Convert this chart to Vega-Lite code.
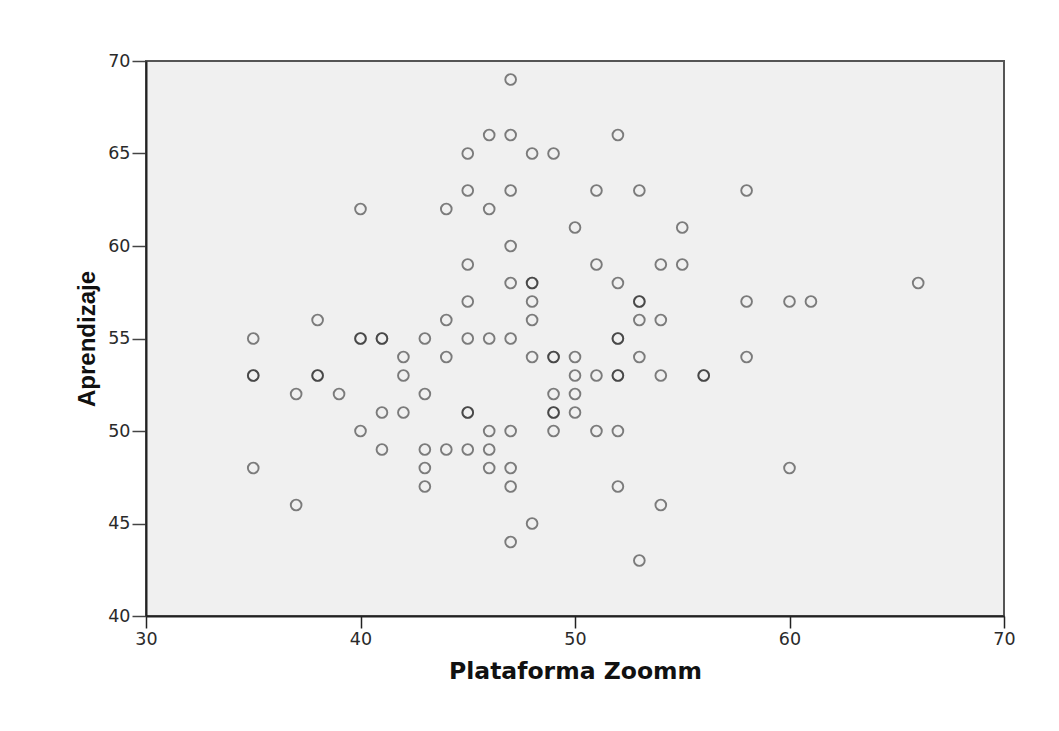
{
  "$schema": "https://vega.github.io/schema/vega-lite/v6.json",
  "autosize": "none",
  "width": 858,
  "height": 555,
  "padding": {"left": 146, "top": 61, "right": 55, "bottom": 115},
  "background": "white",
  "config": {
    "view": {"fill": "#f0f0f0", "stroke": "#555555", "strokeWidth": 2}
  },
  "data": {
    "values": [
      {"zoom": 47, "aprendizaje": 69},
      {"zoom": 46, "aprendizaje": 66}, {"zoom": 47, "aprendizaje": 66}, {"zoom": 52, "aprendizaje": 66},
      {"zoom": 45, "aprendizaje": 65}, {"zoom": 48, "aprendizaje": 65}, {"zoom": 49, "aprendizaje": 65},
      {"zoom": 45, "aprendizaje": 63}, {"zoom": 47, "aprendizaje": 63}, {"zoom": 51, "aprendizaje": 63}, {"zoom": 53, "aprendizaje": 63}, {"zoom": 58, "aprendizaje": 63},
      {"zoom": 40, "aprendizaje": 62}, {"zoom": 44, "aprendizaje": 62}, {"zoom": 46, "aprendizaje": 62},
      {"zoom": 50, "aprendizaje": 61}, {"zoom": 55, "aprendizaje": 61},
      {"zoom": 47, "aprendizaje": 60},
      {"zoom": 45, "aprendizaje": 59}, {"zoom": 51, "aprendizaje": 59}, {"zoom": 54, "aprendizaje": 59}, {"zoom": 55, "aprendizaje": 59},
      {"zoom": 47, "aprendizaje": 58}, {"zoom": 48, "aprendizaje": 58}, {"zoom": 48, "aprendizaje": 58}, {"zoom": 52, "aprendizaje": 58}, {"zoom": 66, "aprendizaje": 58},
      {"zoom": 45, "aprendizaje": 57}, {"zoom": 48, "aprendizaje": 57}, {"zoom": 53, "aprendizaje": 57}, {"zoom": 53, "aprendizaje": 57}, {"zoom": 58, "aprendizaje": 57}, {"zoom": 60, "aprendizaje": 57}, {"zoom": 61, "aprendizaje": 57},
      {"zoom": 38, "aprendizaje": 56}, {"zoom": 44, "aprendizaje": 56}, {"zoom": 48, "aprendizaje": 56}, {"zoom": 53, "aprendizaje": 56}, {"zoom": 54, "aprendizaje": 56},
      {"zoom": 35, "aprendizaje": 55}, {"zoom": 40, "aprendizaje": 55}, {"zoom": 40, "aprendizaje": 55}, {"zoom": 41, "aprendizaje": 55}, {"zoom": 41, "aprendizaje": 55}, {"zoom": 43, "aprendizaje": 55}, {"zoom": 45, "aprendizaje": 55}, {"zoom": 46, "aprendizaje": 55}, {"zoom": 47, "aprendizaje": 55}, {"zoom": 52, "aprendizaje": 55}, {"zoom": 52, "aprendizaje": 55},
      {"zoom": 42, "aprendizaje": 54}, {"zoom": 44, "aprendizaje": 54}, {"zoom": 48, "aprendizaje": 54}, {"zoom": 49, "aprendizaje": 54}, {"zoom": 49, "aprendizaje": 54}, {"zoom": 50, "aprendizaje": 54}, {"zoom": 53, "aprendizaje": 54}, {"zoom": 58, "aprendizaje": 54},
      {"zoom": 35, "aprendizaje": 53}, {"zoom": 35, "aprendizaje": 53}, {"zoom": 38, "aprendizaje": 53}, {"zoom": 38, "aprendizaje": 53}, {"zoom": 42, "aprendizaje": 53}, {"zoom": 50, "aprendizaje": 53}, {"zoom": 51, "aprendizaje": 53}, {"zoom": 52, "aprendizaje": 53}, {"zoom": 52, "aprendizaje": 53}, {"zoom": 54, "aprendizaje": 53}, {"zoom": 56, "aprendizaje": 53}, {"zoom": 56, "aprendizaje": 53},
      {"zoom": 37, "aprendizaje": 52}, {"zoom": 39, "aprendizaje": 52}, {"zoom": 43, "aprendizaje": 52}, {"zoom": 49, "aprendizaje": 52}, {"zoom": 50, "aprendizaje": 52},
      {"zoom": 41, "aprendizaje": 51}, {"zoom": 42, "aprendizaje": 51}, {"zoom": 45, "aprendizaje": 51}, {"zoom": 45, "aprendizaje": 51}, {"zoom": 49, "aprendizaje": 51}, {"zoom": 49, "aprendizaje": 51}, {"zoom": 50, "aprendizaje": 51},
      {"zoom": 40, "aprendizaje": 50}, {"zoom": 46, "aprendizaje": 50}, {"zoom": 47, "aprendizaje": 50}, {"zoom": 49, "aprendizaje": 50}, {"zoom": 51, "aprendizaje": 50}, {"zoom": 52, "aprendizaje": 50},
      {"zoom": 41, "aprendizaje": 49}, {"zoom": 43, "aprendizaje": 49}, {"zoom": 44, "aprendizaje": 49}, {"zoom": 45, "aprendizaje": 49}, {"zoom": 46, "aprendizaje": 49},
      {"zoom": 35, "aprendizaje": 48}, {"zoom": 43, "aprendizaje": 48}, {"zoom": 46, "aprendizaje": 48}, {"zoom": 47, "aprendizaje": 48}, {"zoom": 60, "aprendizaje": 48},
      {"zoom": 43, "aprendizaje": 47}, {"zoom": 47, "aprendizaje": 47}, {"zoom": 52, "aprendizaje": 47},
      {"zoom": 37, "aprendizaje": 46}, {"zoom": 54, "aprendizaje": 46},
      {"zoom": 48, "aprendizaje": 45},
      {"zoom": 47, "aprendizaje": 44},
      {"zoom": 53, "aprendizaje": 43}
    ]
  },
  "mark": {
    "type": "point",
    "shape": "circle",
    "filled": false,
    "size": 115,
    "stroke": "#222222",
    "strokeWidth": 1.9,
    "strokeOpacity": 0.8,
    "clip": false
  },
  "encoding": {
    "x": {
      "field": "zoom",
      "type": "quantitative",
      "scale": {"domain": [30, 70], "nice": false, "zero": false},
      "axis": {
        "title": "Plataforma Zoomm",
        "values": [30, 40, 50, 60, 70],
        "grid": false,
        "labelFlush": false,
        "domainColor": "#222222",
        "domainWidth": 2,
        "tickColor": "#222222",
        "tickWidth": 1.5,
        "tickSize": 12,
        "labelPadding": 2,
        "labelFont": "DejaVu Sans",
        "labelFontSize": 17.5,
        "labelColor": "#2a2a2a",
        "titleFont": "DejaVu Sans",
        "titleFontSize": 23.5,
        "titleFontWeight": "bold",
        "titleColor": "#111111",
        "titlePadding": 12
      }
    },
    "y": {
      "field": "aprendizaje",
      "type": "quantitative",
      "scale": {"domain": [40, 70], "nice": false, "zero": false},
      "axis": {
        "title": "Aprendizaje",
        "values": [40, 45, 50, 55, 60, 65, 70],
        "grid": false,
        "labelFlush": false,
        "domainColor": "#222222",
        "domainWidth": 2,
        "tickColor": "#444444",
        "tickWidth": 1.5,
        "tickSize": 14,
        "labelPadding": 2,
        "labelFont": "DejaVu Sans",
        "labelFontSize": 17.5,
        "labelColor": "#2a2a2a",
        "titleFont": "Liberation Sans",
        "titleFontSize": 24,
        "titleFontWeight": "bold",
        "titleColor": "#111111",
        "titlePadding": 8
      }
    }
  }
}
